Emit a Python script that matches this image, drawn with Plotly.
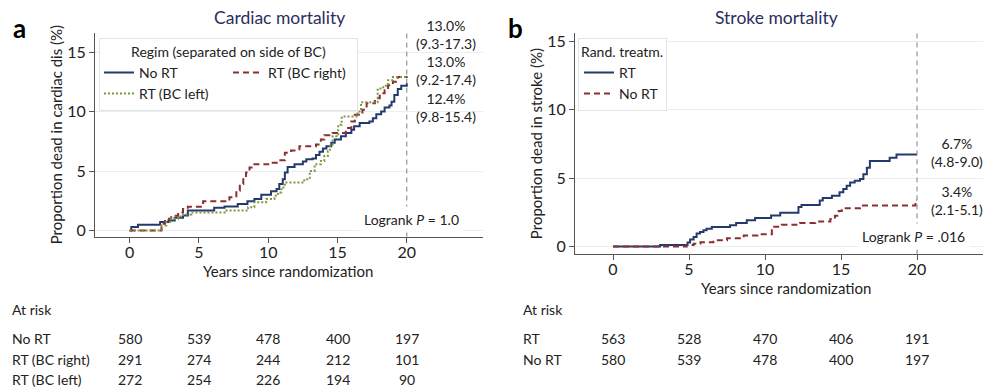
import plotly.graph_objects as go

# ---------------- data ----------------
years_ticks = [0, 5, 10, 15, 20]

# Panel a: cardiac mortality (%), Kaplan-Meier style step curves
card_no_rt_t = [0, 0.12, 0.6, 2.2, 2.8, 3.25, 3.85, 4.2, 6.1, 6.85, 7.8, 8.5, 9.0, 9.5, 10.2, 10.6, 10.8, 11.05,
                11.2, 11.4, 11.9, 12.5, 12.75, 13.2, 13.45, 13.7, 13.95, 14.2, 14.55, 14.8, 15.25, 15.6, 16.0,
                16.2, 16.6, 17.3, 17.55, 17.8, 18.15, 18.4, 18.75, 18.9, 19.1, 19.35, 19.6, 20.0]
card_no_rt_v = [0, 0.3, 0.5, 0.72, 0.86, 1.08, 1.28, 1.7, 1.92, 2.03, 2.25, 2.47, 2.67, 3.03, 3.31, 3.5, 3.92, 4.33,
                4.89, 5.36, 5.58, 5.81, 6.0, 6.08, 6.36, 6.64, 6.92, 7.11, 7.39, 7.67, 7.94, 8.22, 8.5,
                8.78, 9.06, 9.19, 9.47, 9.81, 10.03, 10.36, 10.53, 10.86, 11.42, 11.92, 12.19, 12.4]

card_rt_right_t = [0, 2.2, 2.3, 2.55, 3.0, 3.5, 3.85, 4.2, 5.3, 7.2, 7.7, 7.95, 8.2, 8.4, 8.65, 8.9, 10.0, 10.7,
                   11.2, 11.65, 12.25, 13.45, 13.8, 14.05, 14.65, 15.6, 16.0, 16.25, 16.8, 17.1, 17.7, 18.05,
                   18.4, 18.65, 19.0, 19.35, 20.0]
card_rt_right_v = [0, 0, 0.58, 0.99, 1.26, 1.53, 1.81, 2.0, 2.47, 2.8, 3.36, 3.92, 4.47, 4.89, 5.31, 5.58, 5.72, 5.92,
                   6.56, 6.75, 7.11, 7.25, 7.67, 8.03, 8.22, 8.64, 9.19, 9.75, 10.17, 10.72, 11.14, 11.56,
                   11.83, 12.25, 12.53, 12.94, 13.0]

card_rt_left_t = [0, 2.3, 2.65, 3.0, 3.5, 3.85, 4.45, 6.85, 8.55, 9.0, 9.85, 10.45, 10.7, 10.95, 11.2, 12.6, 13.0,
                  13.35, 13.8, 14.05, 14.3, 14.45, 14.65, 15.05, 15.3, 16.45, 16.7, 17.9, 18.3, 18.65, 19.0, 20.0]
card_rt_left_v = [0, 0.44, 0.72, 0.99, 1.19, 1.36, 1.53, 1.69, 1.97, 2.39, 2.67, 2.94, 3.22, 3.64, 4.06, 4.33, 5.03,
                  5.58, 5.86, 6.28, 6.69, 7.25, 7.94, 8.92, 9.61, 10.03, 10.81, 11.97, 12.19, 12.67, 12.94, 13.0]

# Panel b: stroke mortality (%)
str_rt_t = [0, 3.1, 4.9, 5.07, 5.3, 5.5, 5.72, 5.95, 6.15, 6.5, 7.7, 8.1, 8.8, 9.35, 10.4, 11.0, 12.2, 12.4,
            13.6, 13.8, 14.4, 14.9, 15.15, 15.37, 15.6, 15.9, 16.25, 16.47, 16.7, 16.9, 18.2, 18.65, 20.0]
str_rt_v = [0, 0.1, 0.29, 0.51, 0.7, 0.94, 1.06, 1.18, 1.3, 1.42, 1.55, 1.72, 1.91, 2.08, 2.27, 2.47, 2.88, 3.04,
            3.36, 3.55, 3.72, 3.96, 4.2, 4.44, 4.68, 4.81, 4.93, 5.29, 5.77, 6.26, 6.5, 6.74, 6.74]

str_no_rt_t = [0, 4.85, 5.3, 5.75, 6.6, 7.5, 8.6, 9.5, 10.45, 11.1, 12.3, 13.3, 14.3, 14.6, 14.85, 15.05, 16.25,
               19.9, 20.0]
str_no_rt_v = [0, 0.1, 0.2, 0.3, 0.45, 0.6, 0.8, 0.9, 1.45, 1.58, 1.72, 1.82, 2.0, 2.25, 2.6, 2.8, 3.0,
               3.4, 3.4]

# End-point estimates (95% CI)
card_end_labels = ["13.0%<br>(9.3-17.3)", "13.0%<br>(9.2-17.4)", "12.4%<br>(9.8-15.4)"]
card_end_label_y = [16.5, 13.5, 10.4]
str_end_labels = ["6.7%<br>(4.8-9.0)", "3.4%<br>(2.1-5.1)"]
str_end_label_y = [6.85, 3.4]

# Numbers at risk
card_risk_groups = ["No RT", "RT (BC right)", "RT (BC left)"]
card_risk = [[580, 539, 478, 400, 197],
             [291, 274, 244, 212, 101],
             [272, 254, 226, 194, 90]]
str_risk_groups = ["RT", "No RT"]
str_risk = [[563, 528, 470, 406, 191],
            [580, 539, 478, 400, 197]]

# ---------------- style ----------------
W, H = 987, 389
FONT = "Lato"
NAVY = "#243a6c"
MAROON = "#8c2f33"
OLIVE = "#7f9640"
AXC = "#555555"
GRID = "#e6eff2"
TITLEC = "#2b2e5e"


def px_x(x):
    return x / W


def px_y(y):
    return 1 - y / H


fig = go.Figure()

fig.add_trace(go.Scatter(x=card_no_rt_t, y=card_no_rt_v, mode="lines", line_shape="hv", name="No RT",
                         line=dict(color=NAVY, width=2), legendgroup="a1", legend="legend",
                         xaxis="x", yaxis="y"))
fig.add_trace(go.Scatter(x=card_rt_right_t, y=card_rt_right_v, mode="lines", line_shape="hv",
                         name="RT (BC right)", line=dict(color=MAROON, width=2, dash="6px,4px"),
                         legendgroup="a2", legend="legend", xaxis="x", yaxis="y"))
fig.add_trace(go.Scatter(x=card_rt_left_t, y=card_rt_left_v, mode="lines", line_shape="hv",
                         name="RT (BC left)", line=dict(color=OLIVE, width=2, dash="2px,2px"),
                         legendgroup="a1", legend="legend", xaxis="x", yaxis="y"))

fig.add_trace(go.Scatter(x=str_rt_t, y=str_rt_v, mode="lines", line_shape="hv", name="RT",
                         line=dict(color=NAVY, width=2), legend="legend2", xaxis="x2", yaxis="y2"))
fig.add_trace(go.Scatter(x=str_no_rt_t, y=str_no_rt_v, mode="lines", line_shape="hv", name="No RT",
                         line=dict(color=MAROON, width=2, dash="6px,4px"), legend="legend2",
                         xaxis="x2", yaxis="y2"))

axis_common = dict(showline=True, linecolor=AXC, linewidth=1.2, ticks="outside", ticklen=5,
                   tickcolor=AXC, tickwidth=1.2, tickfont=dict(family=FONT, size=16, color="#222"),
                   zeroline=False, fixedrange=True)

fig.update_layout(
    width=W, height=H,
    margin=dict(l=0, r=0, t=0, b=0),
    paper_bgcolor="white", plot_bgcolor="white",
    font=dict(family=FONT, size=14, color="#222"),
    showlegend=True,
    xaxis=dict(domain=[px_x(95), px_x(483)], range=[-2.5, 25.5], tickvals=years_ticks,
               showgrid=False, anchor="y", ticklabelstandoff=-4, **axis_common),
    yaxis=dict(domain=[px_y(238), px_y(32)], range=[-0.5, 16.67], tickvals=[0, 5, 10, 15],
               showgrid=True, gridcolor=GRID, gridwidth=1, anchor="x",
               title=dict(text="Proportion dead in cardiac dis (%)", font=dict(size=15), standoff=0),
               **axis_common),
    xaxis2=dict(domain=[px_x(575), px_x(983)], range=[-2.5, 24.34], tickvals=years_ticks,
                showgrid=False, anchor="y2", ticklabelstandoff=-5, **axis_common),
    yaxis2=dict(domain=[px_y(256), px_y(32)], range=[-0.58, 15.65], tickvals=[0, 5, 10, 15],
                showgrid=True, gridcolor=GRID, gridwidth=1, anchor="x2",
                title=dict(text="Proportion dead in stroke (%)", font=dict(size=15), standoff=0),
                **axis_common),
    legend=dict(x=px_x(99), y=px_y(37), xanchor="left", yanchor="top", orientation="h",
                traceorder="grouped", tracegroupgap=0, entrywidth=84,
                title=dict(text="Regim (separated on side of BC)", side="top center", font=dict(size=14)),
                bgcolor="white", bordercolor="#dfe5e9", borderwidth=1, font=dict(size=14),
                itemclick=False, itemdoubleclick=False),
    legend2=dict(x=px_x(578), y=px_y(37), xanchor="left", yanchor="top", orientation="v",
                 title=dict(text="Rand. treatm.", side="top", font=dict(size=14)),
                 bgcolor="white", bordercolor="#dfe5e9", borderwidth=1, font=dict(size=14),
                 itemclick=False, itemdoubleclick=False),
)

# vertical dashed reference lines at 20 years
for xr, yr in (("x", "y domain"), ("x2", "y2 domain")):
    fig.add_shape(type="line", xref=xr, yref=yr, x0=20, x1=20, y0=0, y1=1,
                  line=dict(color="#7f7f7f", width=1, dash="5px,4px"))

ann = []
# panel letters and titles
ann.append(dict(text="<b>a</b>", x=px_x(11), y=px_y(27), xref="paper", yref="paper",
                xanchor="left", yanchor="middle", showarrow=False, font=dict(size=26, color="black")))
ann.append(dict(text="<b>b</b>", x=px_x(506), y=px_y(27), xref="paper", yref="paper",
                xanchor="left", yanchor="middle", showarrow=False, font=dict(size=26, color="black")))
ann.append(dict(text="Cardiac mortality", x=px_x(279), y=px_y(17), xref="paper", yref="paper",
                xanchor="center", yanchor="middle", showarrow=False, font=dict(size=17.5, color=TITLEC)))
ann.append(dict(text="Stroke mortality", x=px_x(776), y=px_y(17), xref="paper", yref="paper",
                xanchor="center", yanchor="middle", showarrow=False, font=dict(size=17.5, color=TITLEC)))

# x-axis titles
ann.append(dict(text="Years since randomization", x=px_x(288), y=px_y(273), xref="paper", yref="paper",
                xanchor="center", yanchor="middle", showarrow=False, font=dict(size=15)))
ann.append(dict(text="Years since randomization", x=px_x(786), y=px_y(290), xref="paper", yref="paper",
                xanchor="center", yanchor="middle", showarrow=False, font=dict(size=15)))

# end-point estimates
for txt, yv in zip(card_end_labels, card_end_label_y):
    ann.append(dict(text=txt, x=22.8, y=yv, xref="x", yref="y", showarrow=False,
                    xanchor="center", yanchor="middle", font=dict(size=14)))
for txt, yv in zip(str_end_labels, str_end_label_y):
    ann.append(dict(text=txt, x=22.6, y=yv, xref="x2", yref="y2", showarrow=False,
                    xanchor="center", yanchor="middle", font=dict(size=14)))

# logrank
ann.append(dict(text="Logrank <i>P</i> = 1.0", x=24.1, y=0.9, xref="x", yref="y", showarrow=False,
                xanchor="right", yanchor="middle", bgcolor="white", borderpad=4, font=dict(size=14)))
ann.append(dict(text="Logrank <i>P</i> = .016", x=23.5, y=0.72, xref="x2", yref="y2", showarrow=False,
                xanchor="right", yanchor="middle", bgcolor="white", borderpad=4, font=dict(size=14)))

# at-risk tables
ann.append(dict(text="At risk", x=px_x(10), y=px_y(312), xref="paper", yref="paper", showarrow=False,
                xanchor="left", yanchor="middle", font=dict(size=14)))
ann.append(dict(text="At risk", x=px_x(521), y=px_y(312), xref="paper", yref="paper", showarrow=False,
                xanchor="left", yanchor="middle", font=dict(size=14)))
card_rows_y = [341, 362, 382]
for g, row, ry in zip(card_risk_groups, card_risk, card_rows_y):
    ann.append(dict(text=g, x=px_x(10), y=px_y(ry), xref="paper", yref="paper", showarrow=False,
                    xanchor="left", yanchor="middle", font=dict(size=14)))
    for xv, n in zip(years_ticks, row):
        ann.append(dict(text=str(n), x=xv, y=px_y(ry), xref="x", yref="paper", showarrow=False,
                        xanchor="center", yanchor="middle", font=dict(size=14)))
str_rows_y = [341, 362]
for g, row, ry in zip(str_risk_groups, str_risk, str_rows_y):
    ann.append(dict(text=g, x=px_x(521), y=px_y(ry), xref="paper", yref="paper", showarrow=False,
                    xanchor="left", yanchor="middle", font=dict(size=14)))
    for xv, n in zip(years_ticks, row):
        ann.append(dict(text=str(n), x=xv, y=px_y(ry), xref="x2", yref="paper", showarrow=False,
                        xanchor="center", yanchor="middle", font=dict(size=14)))

fig.update_layout(annotations=ann)

# remove the browser's default 8px page margin so the 987x389 figure fills the window exactly
fig.write_html("out.html", config={"displayModeBar": False},
               post_script="document.body.style.margin='0';document.body.style.overflow='hidden';")
